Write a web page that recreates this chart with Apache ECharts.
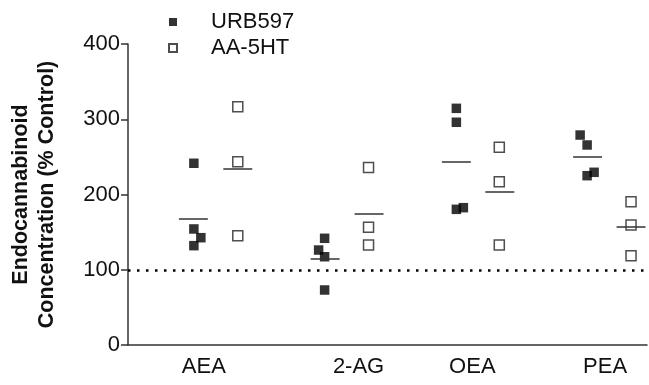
<!DOCTYPE html>
<html>
<head>
<meta charset="utf-8">
<script src="https://cdn.jsdelivr.net/npm/echarts@6/dist/echarts.min.js"></script>
<style>
  html, body { margin: 0; padding: 0; background: #fff; }
  #chart { width: 649px; height: 385px; }
</style>
</head>
<body>
<div id="chart"></div>
<script>
// 类别及其标签位置（x 轴为数值轴，方便做散点的横向错开）
var categories = ['AEA', '2-AG', 'OEA', 'PEA'];
var labelPos = [7.6, 23.1, 34.5, 47.8];

// URB597 各点 [x, y]
var urb597 = [
    [6.6, 241.5], [6.6, 154.2], [7.3, 142.6], [6.6, 132],
    [19.7, 141.8], [19.1, 126.2], [19.7, 117.3], [19.7, 73.1],
    [32.9, 314.5], [32.9, 296], [32.9, 180.3], [33.6, 182.5],
    [45.3, 279], [46.0, 265.8], [46.0, 225], [46.7, 229.5]
];

// AA-5HT 各点 [x, y]
var aa5ht = [
    [11.0, 316.7], [11.0, 243.6], [11.0, 145.2],
    [24.1, 236], [24.1, 156.4], [24.1, 132.9],
    [37.2, 262.7], [37.2, 217], [37.2, 132.9],
    [50.4, 190.4], [50.4, 159.5], [50.4, 118.7]
];

// 均值横线
var urbMean = [167.4, 114.3, 244, 249.8];
var urbMeanX = [6.55, 19.75, 32.9, 46.05];
var aaMean = [234.8, 175, 204.3, 156.8];
var aaMeanX = [11.0, 24.15, 37.25, 50.4];
var meanHalf = 1.45;

var controlLevel = 100;

function meanLines(xs, ys) {
    var out = [];
    for (var i = 0; i < xs.length; i++) {
        out.push([{ coord: [xs[i] - meanHalf, ys[i]] }, { coord: [xs[i] + meanHalf, ys[i]] }]);
    }
    return out;
}

var myChart = echarts.init(document.getElementById('chart'));
var font = 'Liberation Sans, Arial, sans-serif';

var option = {
    animation: false,
    textStyle: { fontFamily: font },
    grid: { left: 127, top: 44, width: 520, bottom: 40 },
    legend: {
        orient: 'vertical',
        left: 163,
        top: 6,
        itemWidth: 8,
        itemHeight: 8,
        itemGap: 4,
        textStyle: { fontFamily: font, fontSize: 22, color: '#111', padding: [0, 0, 0, 29], lineHeight: 20 },
        data: [
            { name: 'URB597', icon: 'rect' },
            { name: 'AA-5HT', icon: 'rect' }
        ]
    },
    xAxis: {
        type: 'value',
        min: 0,
        max: 52,
        axisLine: { show: true, onZero: false, lineStyle: { color: '#333', width: 1.5 } },
        axisTick: { show: false },
        splitLine: { show: false },
        axisLabel: {
            customValues: labelPos,
            fontFamily: font,
            fontSize: 22,
            color: '#111',
            margin: 11,
            formatter: function(v) {
                var i = labelPos.indexOf(v);
                return i >= 0 ? categories[i] : '';
            }
        }
    },
    yAxis: {
        type: 'value',
        min: 0,
        max: 400,
        interval: 100,
        name: 'Endocannabinoid\nConcentration (% Control)',
        nameLocation: 'middle',
        nameGap: 68,
        nameTextStyle: { fontFamily: font, fontSize: 21.5, fontWeight: 'bold', color: '#111', lineHeight: 26 },
        axisLine: { show: true, lineStyle: { color: '#333', width: 1.5 } },
        axisTick: { show: true, length: 7, lineStyle: { color: '#333', width: 1.5 } },
        splitLine: { show: false },
        axisLabel: { fontFamily: font, fontSize: 22, color: '#111', margin: 8 }
    },
    series: [{
        name: 'URB597',
        type: 'scatter',
        symbol: 'rect',
        symbolSize: 9.5,
        itemStyle: { color: '#000' },
        data: urb597,
        z: 3,
        markLine: {
            silent: true,
            symbol: 'none',
            label: { show: false },
            lineStyle: { color: '#333', width: 1.5, type: 'solid' },
            data: meanLines(urbMeanX, urbMean).concat([{
                yAxis: controlLevel,
                lineStyle: { color: '#000', width: 2.5, type: [2.5, 6.5] }
            }])
        }
    }, {
        name: 'AA-5HT',
        type: 'scatter',
        symbol: 'rect',
        symbolSize: 10,
        itemStyle: { color: '#fff', borderColor: '#222', borderWidth: 1.5 },
        data: aa5ht,
        z: 3,
        markLine: {
            silent: true,
            symbol: 'none',
            label: { show: false },
            lineStyle: { color: '#333', width: 1.5, type: 'solid' },
            data: meanLines(aaMeanX, aaMean)
        }
    }]
};

myChart.setOption(option);
</script>
</body>
</html>
